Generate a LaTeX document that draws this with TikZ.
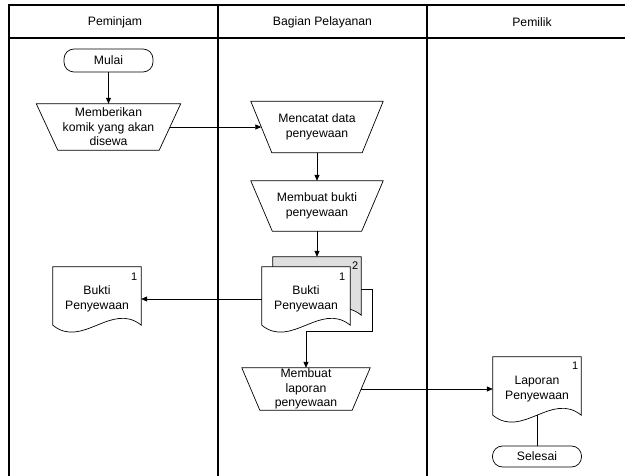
\documentclass[tikz,border=0pt]{standalone}
\usepackage{fontspec}
\setmainfont{Liberation Sans}
\usetikzlibrary{arrows.meta}
\newcommand\docdraw[2]{\draw[shp,fill=#2] (#1.north west) -- (#1.north east) -- ([yshift=6pt]#1.south east) .. controls +(-29.3,-24) and +(29.3,24) .. ([yshift=6pt]#1.south west) -- cycle;}
\newcommand\trapdraw[2]{\draw[shp] (#1.north west) -- (#1.north east) -- ([xshift=-#2]#1.south east) -- ([xshift=#2]#1.south west) -- cycle;}
\begin{document}
\begin{tikzpicture}[x=1pt,y=-1pt,
  font=\fontsize{12.2}{14.5}\selectfont,
  frame/.style={line width=1.2pt},
  shp/.style={draw, line width=0.7pt},
  term/.style={shp, rectangle, rounded corners=10pt, minimum width=89pt, inner sep=0pt},
  manop/.style={rectangle, inner sep=0pt, align=center},
  docbox/.style={rectangle, minimum width=88pt, minimum height=64pt, inner sep=0pt},
  txt/.style={align=center, inner sep=0pt},
  numlab/.style={inner sep=0pt, font=\fontsize{11}{13}\selectfont},
  arr/.style={-{Triangle[length=6pt,width=5pt]}, line width=0.7pt},
  con/.style={line width=0.7pt}
]
\fill[white] (0,0) rectangle (625,476);
\useasboundingbox (0,0) rectangle (625,476);
% swimlane frame
\draw[frame] (625,5) -- (9,5) -- (9,476);
\draw[frame] (9,38) -- (625,38);
\draw[frame] (218,5) -- (218,476);
\draw[frame] (427,5) -- (427,476);
\node[txt] (h1) at (115,22) {Peminjam};
\node[txt] (h2) at (322.5,22) {Bagian Pelayanan};
\node[txt] (h3) at (532,22) {Pemilik};
% terminals
\node[term, minimum height=23pt] (mulai) at (108.5,60.5) {Mulai};
\node[term, minimum height=21pt] (sel) at (537,456.5) {Selesai};
% manual operations
\node[manop, minimum width=144pt, minimum height=46pt] (t1) at (108.5,127) {Memberikan\\komik yang akan\\disewa};
\node[manop, minimum width=132pt, minimum height=51pt] (t2) at (317,127) {Mencatat data\\penyewaan};
\node[manop, minimum width=132pt, minimum height=50pt] (t3) at (317,206) {Membuat bukti\\penyewaan};
\node[manop, minimum width=128pt, minimum height=42pt] (t4) at (306,389) {Membuat\\laporan\\penyewaan};
\trapdraw{t1}{21.5pt}
\trapdraw{t2}{21pt}
\trapdraw{t3}{21.5pt}
\trapdraw{t4}{18pt}
% documents
\node[docbox] (ld) at (97,299) {};
\node[docbox] (bd) at (317,289) {};
\node[docbox] (fd) at (306,299) {};
\node[docbox] (lap) at (537,389) {};
\docdraw{ld}{white}
\docdraw{bd}{gray!25}
\docdraw{fd}{white}
\docdraw{lap}{white}
\node[txt] (ldt) at (ld) {Bukti\\Penyewaan};
\node[txt] (fdt) at (fd) {Bukti\\Penyewaan};
\node[txt] (lapt) at (lap) {Laporan\\Penyewaan};
\node[numlab] (ldn) at ([xshift=-7pt,yshift=-10pt]ld.north east) {1};
\node[numlab] (bdn) at ([xshift=-6pt,yshift=-9pt]bd.north east) {2};
\node[numlab] (fdn) at ([xshift=-8pt,yshift=-10pt]fd.north east) {1};
\node[numlab] (lapn) at ([xshift=-6pt,yshift=-9pt]lap.north east) {1};
% connectors
\coordinate (bend) at (t4 |- fd.south);
\draw[arr] (mulai) -- (t1);
\draw[arr] ([xshift=-10.75pt]t1.east) -- ([xshift=10.5pt]t2.west);
\draw[arr] (t2) -- (t3);
\draw[arr] (t3) -- (bd);
\draw[arr] (fd) -- (ld);
\draw[arr] (bd.east) -- ++(11,0) |- (bend) -- (t4);
\draw[arr] ([xshift=-9pt]t4.east) -- (lap);
\draw[con] ([yshift=6pt]lap.south) -- (sel);
\end{tikzpicture}
\end{document}
